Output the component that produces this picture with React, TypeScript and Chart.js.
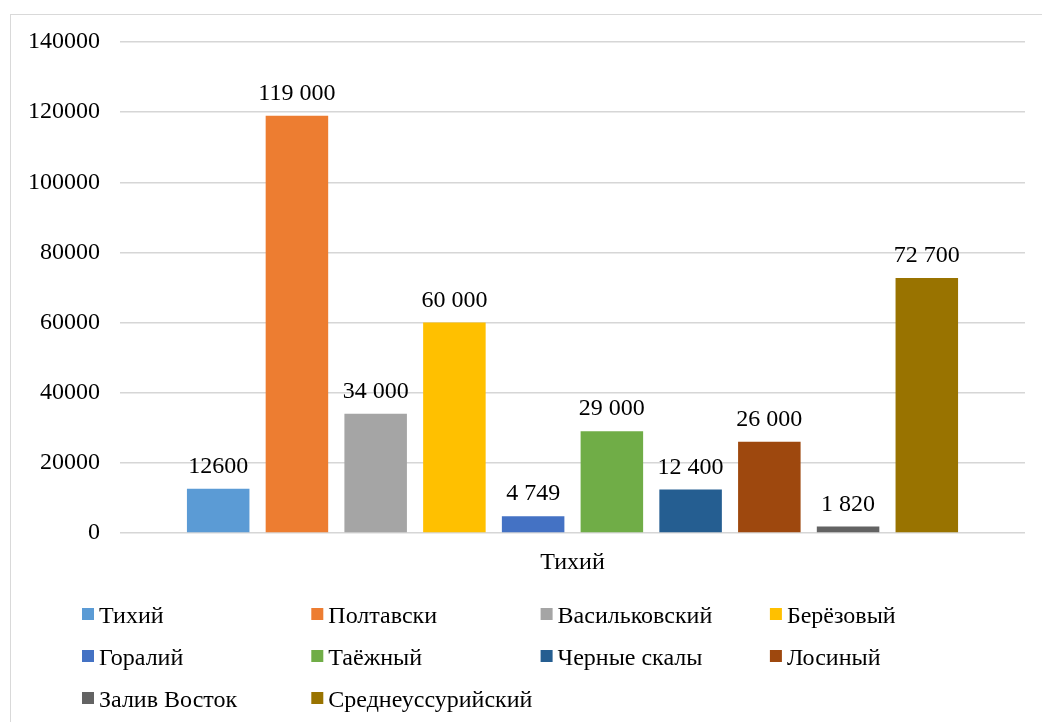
import React, { useEffect, useRef } from "react";
import { Chart, registerables } from "chart.js";

Chart.register(...registerables);

const FONT = "'Liberation Serif', 'Times New Roman', serif";
const FS = 24;

const categories = ["Тихий"];
const seriesNames = [
  "Тихий",
  "Полтавски",
  "Васильковский",
  "Берёзовый",
  "Горалий",
  "Таёжный",
  "Черные скалы",
  "Лосиный",
  "Залив Восток",
  "Среднеуссурийский",
];
const seriesValues = [12600, 119000, 34000, 60000, 4749, 29000, 12400, 26000, 1820, 72700];
const valueLabels = ["12600", "119 000", "34 000", "60 000", "4 749", "29 000", "12 400", "26 000", "1 820", "72 700"];
const seriesColors = [
  "#5B9BD5",
  "#ED7D31",
  "#A5A5A5",
  "#FFC000",
  "#4472C4",
  "#70AD47",
  "#255E91",
  "#9E480E",
  "#636363",
  "#997300",
];
const yMin = 0;
const yMax = 140000;
const yStep = 20000;

const valueLabelPlugin = {
  id: "valueLabels",
  afterDatasetsDraw(chart: any) {
    const ctx = chart.ctx;
    ctx.save();
    ctx.font = `${FS}px ${FONT}`;
    ctx.fillStyle = "#000";
    ctx.textAlign = "center";
    ctx.textBaseline = "alphabetic";
    chart.data.datasets.forEach((ds: any, i: number) => {
      const meta = chart.getDatasetMeta(i);
      meta.data.forEach((el: any) => {
        ctx.fillText(valueLabels[i], el.x, el.y - 16);
      });
    });
    ctx.restore();
  },
};

const gridLegendPlugin = {
  id: "gridLegend",
  afterDraw(chart: any) {
    const ctx = chart.ctx;
    ctx.save();
    ctx.font = `${FS}px ${FONT}`;
    ctx.textAlign = "left";
    ctx.textBaseline = "alphabetic";
    const cols = 4;
    const x0 = 82;
    const colW = 229.3;
    const y0 = 623;
    const rowH = 42;
    chart.data.datasets.forEach((ds: any, i: number) => {
      const c = i % cols;
      const r = Math.floor(i / cols);
      const x = x0 + c * colW;
      const base = y0 + r * rowH;
      ctx.fillStyle = ds.backgroundColor;
      ctx.fillRect(x, base - 15, 12, 12);
      ctx.fillStyle = "#000";
      ctx.fillText(ds.label, x + 17, base);
    });
    ctx.restore();
  },
};

export default function App() {
  const canvasRef = useRef<HTMLCanvasElement | null>(null);

  useEffect(() => {
    if (!canvasRef.current) return;
    const chart = new Chart(canvasRef.current, {
      type: "bar",
      data: {
        labels: categories,
        datasets: seriesNames.map((name, i) => ({
          label: name,
          data: [seriesValues[i]],
          backgroundColor: seriesColors[i],
          borderWidth: 0,
          categoryPercentage: 0.87,
          barPercentage: 0.794,
        })),
      },
      options: {
        responsive: false,
        animation: false,
        layout: { padding: { left: 20, right: 17, top: 42, bottom: 129 } },
        plugins: {
          legend: { display: false },
          tooltip: { enabled: false },
        },
        scales: {
          x: {
            grid: { display: false },
            border: { display: false },
            ticks: {
              color: "#000",
              font: { family: FONT, size: FS },
              padding: 7,
            },
            afterFit: (scale: any) => {
              scale.height = 60;
            },
          },
          y: {
            min: yMin,
            max: yMax,
            grid: { color: "#d6d6d6", lineWidth: 1.5, drawTicks: false },
            border: { display: false },
            ticks: {
              stepSize: yStep,
              color: "#000",
              font: { family: FONT, size: FS },
              padding: 20,
              callback: (v: any) => String(v),
            },
            afterFit: (scale: any) => {
              scale.width = 100;
            },
          },
        },
      },
      plugins: [valueLabelPlugin, gridLegendPlugin],
    });
    return () => chart.destroy();
  }, []);

  return (
    <div style={{ position: "fixed", left: 0, top: 0, width: 1042, height: 722, overflow: "hidden", background: "#fff" }}>
      <div
        style={{
          position: "absolute",
          left: 10,
          top: 14,
          width: 1100,
          height: 800,
          border: "1.5px solid #d9d9d9",
          boxSizing: "border-box",
        }}
      />
      <canvas ref={canvasRef} width={1042} height={722} style={{ position: "absolute", left: 0, top: 0 }} />
    </div>
  );
}
